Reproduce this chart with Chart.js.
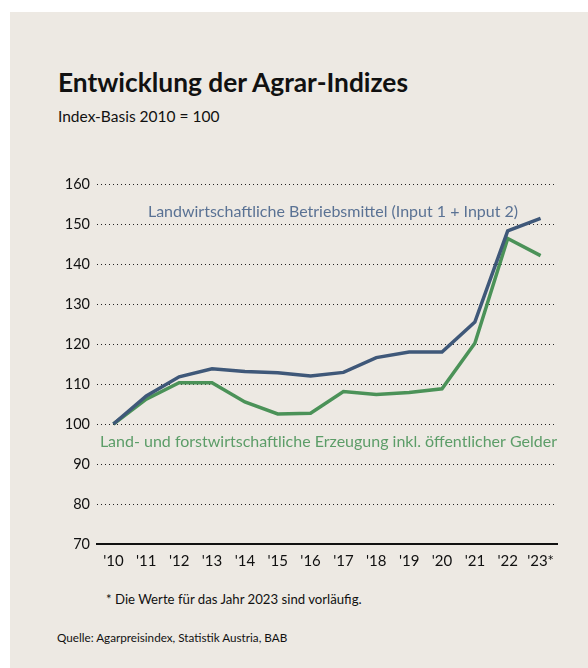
<!DOCTYPE html>
<html>
<head>
<meta charset="utf-8">
<script src="https://cdn.jsdelivr.net/npm/chart.js@4.4.1/dist/chart.umd.min.js"></script>
<style>
    html, body { margin: 0; padding: 0; background: #fff; }
    #page {
        position: absolute; left: 10px; top: 12px; width: 578px; height: 656px;
        background: #ede9e3; font-family: Lato, "Noto Sans", sans-serif; color: #111;
    }
    #title { position: absolute; left: 48px; top: 54px; font-size: 26.3px; font-weight: bold; }
    #sub { position: absolute; left: 48px; top: 95px; font-size: 15.5px; }
    #note { position: absolute; left: 96px; top: 579px; font-size: 13.2px; }
    #src { position: absolute; left: 47px; top: 618px; font-size: 11.7px; }
    #wrap { position: absolute; left: -10px; top: 146px; width: 588px; height: 420px; }
</style>
</head>
<body>
<div id="page">
    <div id="title">Entwicklung der Agrar-Indizes</div>
    <div id="sub">Index-Basis 2010 = 100</div>
    <div id="wrap"><canvas id="chart"></canvas></div>
    <div id="note">* Die Werte für das Jahr 2023 sind vorläufig.</div>
    <div id="src">Quelle: Agarpreisindex, Statistik Austria, BAB</div>
</div>
<script>
const years = ["'10", "'11", "'12", "'13", "'14", "'15", "'16", "'17", "'18", "'19", "'20", "'21", "'22", "'23*"];
const betriebsmittel = [100, 107.0, 111.8, 113.8, 113.1, 112.8, 112.0, 112.9, 116.6, 118.0, 118.0, 125.5, 148.3, 151.4];
const erzeugung = [100, 106.2, 110.3, 110.3, 105.5, 102.5, 102.7, 108.1, 107.4, 107.9, 108.8, 120.2, 146.4, 142.1];
const yTicks = [70, 80, 90, 100, 110, 120, 130, 140, 150, 160];

const blue = '#3f5879';
const green = '#4b9258';

// text labels placed next to the lines
const lineLabels = {
    id: 'lineLabels',
    afterDatasetsDraw(chart) {
        const ctx = chart.ctx;
        const x = chart.scales.x, y = chart.scales.y;
        const area = chart.chartArea;
        ctx.save();
        ctx.font = '16px Lato, "Noto Sans", sans-serif';
        ctx.textBaseline = 'middle';
        ctx.textAlign = 'center';
        ctx.fillStyle = '#5a7294';
        ctx.fillText('Landwirtschaftliche Betriebsmittel (Input 1 + Input 2)', (x.getPixelForValue(1) + x.getPixelForValue(12)) / 2 + 6, y.getPixelForValue(153));
        ctx.fillStyle = '#5c9d68';
        ctx.textAlign = 'right';
        ctx.fillText('Land- und forstwirtschaftliche Erzeugung inkl. öffentlicher Gelder', area.right, y.getPixelForValue(95.6));
        ctx.restore();
    }
};

const ctx = document.getElementById('chart').getContext('2d');
new Chart(ctx, {
    type: 'line',
    data: {
        labels: years,
        datasets: [{
            data: betriebsmittel,
            borderColor: blue,
            borderWidth: 3.5,
            pointRadius: 0,
            tension: 0
        }, {
            data: erzeugung,
            borderColor: green,
            borderWidth: 3.5,
            pointRadius: 0,
            tension: 0
        }]
    },
    options: {
        responsive: true,
        maintainAspectRatio: false,
        animation: false,
        layout: { padding: { left: 0, right: 31, top: 26, bottom: 0 } },
        plugins: { legend: { display: false }, tooltip: { enabled: false } },
        scales: {
            x: {
                offset: true,
                grid: { display: false, drawTicks: false },
                border: { display: true, color: '#111', width: 2 },
                ticks: { color: '#111', font: { family: 'Lato', size: 15 }, padding: 8, maxRotation: 0, autoSkip: false },
                afterFit(s) { s.height = 34; }
            },
            y: {
                min: 70,
                max: 160,
                afterBuildTicks(s) { s.ticks = yTicks.map(v => ({ value: v })); },
                grid: {
                    drawTicks: false,
                    color: c => c.tick && c.tick.value === 70 ? 'rgba(0,0,0,0)' : '#222',
                    lineWidth: 1
                },
                border: { display: false, dash: [1, 3] },
                ticks: { color: '#111', font: { family: 'Lato', size: 14.5 }, padding: 7 },
                afterFit(s) { s.width = 97; }
            }
        }
    },
    plugins: [lineLabels]
});
</script>
</body>
</html>
